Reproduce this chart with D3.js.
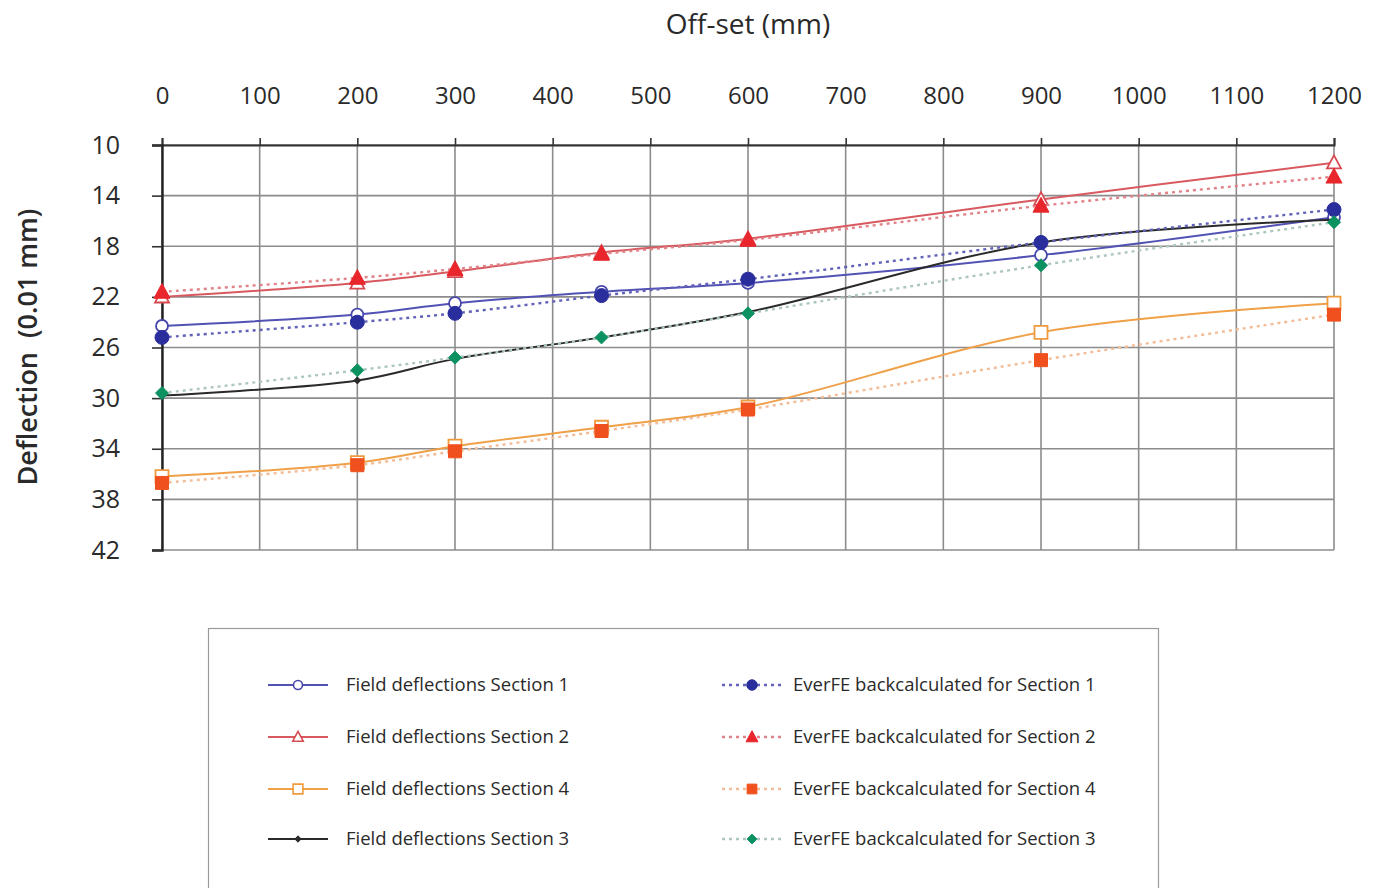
<!DOCTYPE html>
<html>
<head>
<meta charset="utf-8">
<script src="https://cdn.jsdelivr.net/npm/d3@7"></script>
<style>
  html, body { margin: 0; padding: 0; background: #ffffff; }
  svg { display: block; }
  text { font-family: "Open Sans", "DejaVu Sans", sans-serif; fill: #2a2a2a; }
</style>
</head>
<body>
<svg id="chart" width="1383" height="888"></svg>
<script>
// Offsets (mm) where deflections were measured
const offsets = [0, 200, 300, 450, 600, 900, 1200];

// Measured field deflections (0.01 mm)
const field1 = [24.3, 23.4, 22.5, 21.6, 20.9, 18.7, 15.7];
const field2 = [22.0, 20.9, 20.0, 18.5, 17.4, 14.3, 11.4];
const field4 = [36.2, 35.1, 33.8, 32.3, 30.7, 24.8, 22.5];
const field3 = [29.8, 28.6, 26.9, 25.2, 23.2, 17.7, 15.9];

// EverFE backcalculated deflections (0.01 mm)
const ever1 = [25.2, 24.0, 23.3, 21.9, 20.6, 17.7, 15.1];
const ever2 = [21.6, 20.5, 19.8, 18.6, 17.5, 14.8, 12.5];
const ever4 = [36.7, 35.3, 34.2, 32.6, 30.9, 27.0, 23.4];
const ever3 = [29.6, 27.8, 26.8, 25.2, 23.3, 19.5, 16.1];

// Axis ticks
const xTicks = [0, 100, 200, 300, 400, 500, 600, 700, 800, 900, 1000, 1100, 1200];
const yTicks = [10, 14, 18, 22, 26, 30, 34, 38, 42];

const svg = d3.select("#chart");

const x = d3.scaleLinear().domain([0, 1200]).range([162, 1334]);
const y = d3.scaleLinear().domain([10, 42]).range([145, 550]);

// Gridlines
const grid = svg.append("g");
grid.selectAll("line.v").data(xTicks).join("line")
  .attr("x1", d => x(d)).attr("x2", d => x(d))
  .attr("y1", y(10)).attr("y2", y(42))
  .attr("stroke", "#8c8c8c").attr("stroke-width", 1.6);
grid.selectAll("line.h").data(yTicks).join("line")
  .attr("x1", x(0)).attr("x2", x(1200))
  .attr("y1", d => y(d)).attr("y2", d => y(d))
  .attr("stroke", "#8c8c8c").attr("stroke-width", 1.6);

// Top axis (offset)
const xAxis = d3.axisTop(x).tickValues(xTicks).tickSize(7).tickPadding(34).tickFormat(d3.format("d"));
const gx = svg.append("g").attr("transform", `translate(0,${y(10)})`).call(xAxis);
gx.select(".domain").attr("stroke", "#333").attr("stroke-width", 2);
gx.selectAll(".tick line").attr("stroke", "#333").attr("stroke-width", 1.6);
gx.selectAll(".tick text").attr("font-size", 24).attr("font-family", "Open Sans").attr("fill", "#2a2a2a");

// Left axis (deflection)
const yAxis = d3.axisLeft(y).tickValues(yTicks).tickSize(10).tickPadding(32).tickFormat(d3.format("d"));
const gy = svg.append("g").attr("transform", `translate(${x(0)},0)`).call(yAxis);
gy.select(".domain").attr("stroke", "#222").attr("stroke-width", 2.4);
gy.selectAll(".tick line").attr("stroke", "#333").attr("stroke-width", 1.6);
gy.selectAll(".tick text").attr("font-size", 25).attr("font-family", "Open Sans").attr("fill", "#2a2a2a");

// Axis titles
svg.append("text").attr("x", 748).attr("y", 34).attr("text-anchor", "middle")
  .attr("font-size", 28).text("Off-set (mm)");
svg.append("text").attr("transform", "translate(37,347) rotate(-90)").attr("text-anchor", "middle")
  .attr("font-size", 27).attr("font-weight", 600).style("white-space", "pre")
  .text("Deflection  (0.01 mm)");

// Series definitions
const series = [
  { name: "Field deflections Section 1", values: field1, line: "#5252b4", dash: null, marker: "circle", fill: "#ffffff", mstroke: "#4646ac", size: 6 },
  { name: "Field deflections Section 2", values: field2, line: "#d85a60", dash: null, marker: "triangle", fill: "#ffffff", mstroke: "#d84a52", size: 7 },
  { name: "Field deflections Section 4", values: field4, line: "#efa048", dash: null, marker: "square", fill: "#ffffff", mstroke: "#ef9a3c", size: 6.5 },
  { name: "Field deflections Section 3", values: field3, line: "#2a2a2a", dash: null, marker: "diamond", fill: "#2a2a2a", mstroke: "#2a2a2a", size: 3.5 },
  { name: "EverFE backcalculated for Section 1", values: ever1, line: "#6262b8", dash: "3,4", marker: "circle", fill: "#2a2e9c", mstroke: "#2a2e9c", size: 7 },
  { name: "EverFE backcalculated for Section 2", values: ever2, line: "#e08288", dash: "3,4", marker: "triangle", fill: "#e8262c", mstroke: "#e8262c", size: 8 },
  { name: "EverFE backcalculated for Section 4", values: ever4, line: "#f2bc98", dash: "3,4", marker: "square", fill: "#f0501e", mstroke: "#f0501e", size: 6.5 },
  { name: "EverFE backcalculated for Section 3", values: ever3, line: "#adc6c0", dash: "3,4", marker: "diamond", fill: "#0c9260", mstroke: "#0c9260", size: 6.5 }
];

function markerPath(type, s) {
  switch (type) {
    case "circle": return d3.symbol(d3.symbolCircle, Math.PI * s * s)();
    case "square": return `M${-s},${-s}H${s}V${s}H${-s}Z`;
    case "triangle": return `M0,${-s * 1.05}L${s},${s * 0.8}L${-s},${s * 0.8}Z`;
    case "diamond": return `M0,${-s}L${s},0L0,${s}L${-s},0Z`;
  }
}

const line = d3.line().x(d => x(d[0])).y(d => y(d[1])).curve(d3.curveCatmullRom.alpha(0.5));
const plot = svg.append("g");

series.forEach(s => {
  const pts = offsets.map((o, i) => [o, s.values[i]]);
  plot.append("path").datum(pts)
    .attr("d", line)
    .attr("fill", "none")
    .attr("stroke", s.line)
    .attr("stroke-width", s.dash ? 2.4 : 2)
    .attr("stroke-dasharray", s.dash);
  plot.append("g").selectAll("path").data(pts).join("path")
    .attr("transform", d => `translate(${x(d[0])},${y(d[1])})`)
    .attr("d", markerPath(s.marker, s.size))
    .attr("fill", s.fill)
    .attr("stroke", s.mstroke)
    .attr("stroke-width", s.fill === "#ffffff" ? 1.8 : 1);
});

// Legend box
svg.append("rect").attr("x", 208.5).attr("y", 628.5).attr("width", 950).attr("height", 270)
  .attr("fill", "#ffffff").attr("stroke", "#9a9a9a").attr("stroke-width", 1.2);

const rowsY = [685, 737, 789, 839];
const legend = svg.append("g");
series.forEach((s, i) => {
  const col = i < 4 ? 0 : 1;
  const row = i % 4;
  const x0 = col === 0 ? 268 : 722;
  const cy = rowsY[row];
  const g = legend.append("g");
  g.append("line").attr("x1", x0).attr("x2", x0 + 60).attr("y1", cy).attr("y2", cy)
    .attr("stroke", s.line).attr("stroke-width", s.dash ? 2.4 : 2).attr("stroke-dasharray", s.dash);
  const ms = s.marker === "diamond" && !s.dash ? 3.2 : s.size * 0.75;
  g.append("path").attr("transform", `translate(${x0 + 30},${cy})`)
    .attr("d", markerPath(s.marker, ms))
    .attr("fill", s.fill).attr("stroke", s.mstroke)
    .attr("stroke-width", s.fill === "#ffffff" ? 1.6 : 1);
  g.append("text").attr("x", col === 0 ? 346 : 793).attr("y", cy + 6)
    .attr("font-size", 18.5).text(s.name);
});
</script>
</body>
</html>
